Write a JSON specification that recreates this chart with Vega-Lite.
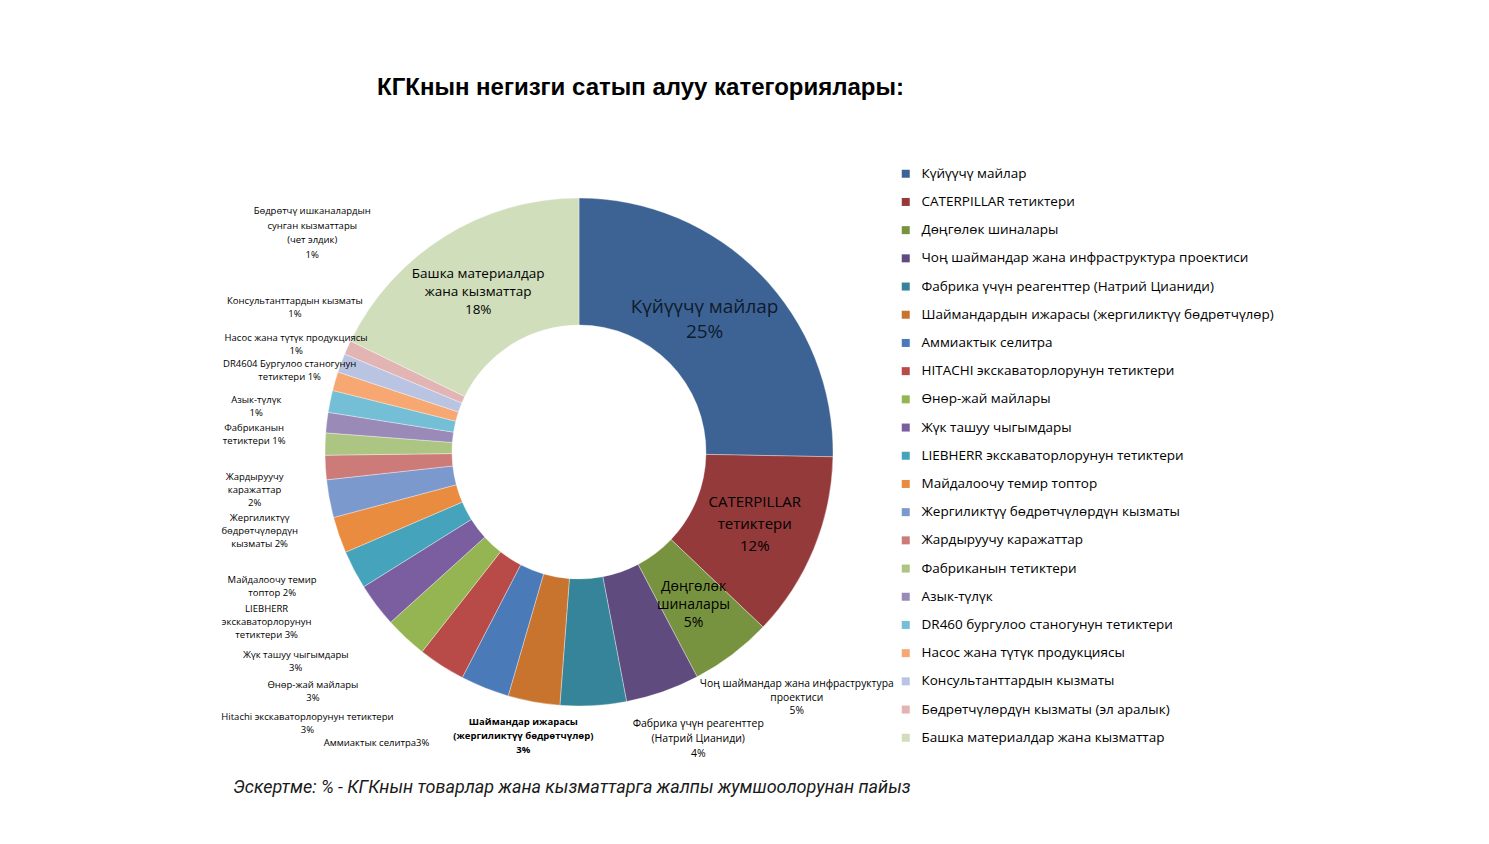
{
  "$schema": "https://vega.github.io/schema/vega-lite/v6.json",
  "background": "white",
  "padding": {"left": 180, "top": 76, "right": 10, "bottom": 10},
  "title": {"text": "КГКнын негизги сатып алуу категориялары:", "font": "Liberation Sans", "fontSize": 24, "fontWeight": "bold", "color": "#000000", "anchor": "start", "frame": "group", "dx": 197, "offset": 35},
  "config": {"view": {"stroke": null}, "text": {"lineBreak": "\n", "font": "Open Sans", "clip": true}},
  "vconcat": [
    {
      "width": 798,
      "height": 634,
      "title": {"text": "Эскертме: % - КГКнын товарлар жана кызматтарга жалпы жумшоолорунан пайыз", "orient": "bottom", "anchor": "start", "frame": "group", "dx": 53, "offset": 10, "font": "Roboto", "fontSize": 18, "fontStyle": "italic", "fontWeight": "normal", "color": "#1a1a1a"},
      "data": {"values": [
        {"idx": 1, "name": "Күйүүчү майлар", "label": "Күйүүчү майлар\n25%", "value": 25.3},
        {"idx": 2, "name": "CATERPILLAR тетиктери", "label": "CATERPILLAR\nтетиктери\n12%", "value": 11.8},
        {"idx": 3, "name": "Дөңгөлөк шиналары", "label": "Дөңгөлөк\nшиналары\n5%", "value": 5.2},
        {"idx": 4, "name": "Чоң шаймандар жана инфраструктура проектиси", "label": "Чоң шаймандар жана инфраструктура\nпроектиси\n5%", "value": 4.7},
        {"idx": 5, "name": "Фабрика үчүн реагенттер (Натрий Цианиди)", "label": "Фабрика үчүн реагенттер\n(Натрий Цианиди)\n4%", "value": 4.2},
        {"idx": 6, "name": "Шаймандардын ижарасы (жергиликтүү бөдрөтчүлөр)", "label": "Шаймандар ижарасы\n(жергиликтүү бөдрөтчүлөр)\n3%", "value": 3.3},
        {"idx": 7, "name": "Аммиактык селитра", "label": "Аммиактык селитра3%", "value": 3.1},
        {"idx": 8, "name": "HITACHI экскаваторлорунун тетиктери", "label": "Hitachi экскаваторлорунун тетиктери\n3%", "value": 3.0},
        {"idx": 9, "name": "Өнөр-жай майлары", "label": "Өнөр-жай майлары\n3%", "value": 2.7},
        {"idx": 10, "name": "Жүк ташуу чыгымдары", "label": "Жүк ташуу чыгымдары\n3%", "value": 2.8},
        {"idx": 11, "name": "LIEBHERR экскаваторлорунун тетиктери", "label": "LIEBHERR\nэкскаваторлорунун\nтетиктери 3%", "value": 2.45},
        {"idx": 12, "name": "Майдалоочу темир топтор", "label": "Майдалоочу темир\nтоптор 2%", "value": 2.3},
        {"idx": 13, "name": "Жергиликтүү бөдрөтчүлөрдүн кызматы", "label": "Жергиликтүү\nбөдрөтчүлөрдүн\nкызматы 2%", "value": 2.4},
        {"idx": 14, "name": "Жардыруучу каражаттар", "label": "Жардыруучу\nкаражаттар\n2%", "value": 1.55},
        {"idx": 15, "name": "Фабриканын тетиктери", "label": "Фабриканын\nтетиктери 1%", "value": 1.4},
        {"idx": 16, "name": "Азык-түлүк", "label": "Азык-түлүк\n1%", "value": 1.3},
        {"idx": 17, "name": "DR460 бургулоо станогунун тетиктери", "label": "DR4604 Бургулоо станогунун\nтетиктери  1%", "value": 1.4},
        {"idx": 18, "name": "Насос жана түтүк продукциясы", "label": "Насос жана түтүк продукциясы\n1%", "value": 1.2},
        {"idx": 19, "name": "Консультанттардын кызматы", "label": "Консультанттардын кызматы\n1%", "value": 1.2},
        {"idx": 20, "name": "Бөдрөтчүлөрдүн кызматы (эл аралык)", "label": "Бөдрөтчү ишканалардын\nсунган кызматтары\n(чет элдик)\n1%", "value": 0.9},
        {"idx": 21, "name": "Башка материалдар жана кызматтар", "label": "Башка материалдар\nжана кызматтар\n18%", "value": 17.8}
      ]},
      "encoding": {
        "theta": {"field": "value", "type": "quantitative", "stack": true},
        "order": {"field": "idx", "type": "quantitative"}
      },
      "layer": [
        {
          "mark": {"type": "arc", "innerRadius": 127, "outerRadius": 254, "stroke": "#ffffff", "strokeWidth": 0.5, "strokeOpacity": 0.7},
          "encoding": {
            "color": {
              "field": "name", "type": "nominal",
              "scale": {
                "domain": ["Күйүүчү майлар", "CATERPILLAR тетиктери", "Дөңгөлөк шиналары", "Чоң шаймандар жана инфраструктура проектиси", "Фабрика үчүн реагенттер (Натрий Цианиди)", "Шаймандардын ижарасы (жергиликтүү бөдрөтчүлөр)", "Аммиактык селитра", "HITACHI экскаваторлорунун тетиктери", "Өнөр-жай майлары", "Жүк ташуу чыгымдары", "LIEBHERR экскаваторлорунун тетиктери", "Майдалоочу темир топтор", "Жергиликтүү бөдрөтчүлөрдүн кызматы", "Жардыруучу каражаттар", "Фабриканын тетиктери", "Азык-түлүк", "DR460 бургулоо станогунун тетиктери", "Насос жана түтүк продукциясы", "Консультанттардын кызматы", "Бөдрөтчүлөрдүн кызматы (эл аралык)", "Башка материалдар жана кызматтар"],
                "range": ["#3d6394", "#953a3a", "#78933f", "#5f4b7e", "#35849a", "#c8742f", "#4a7ab8", "#b84a47", "#94b551", "#7b5ea0", "#45a3bc", "#e98c3f", "#7c99cd", "#cc7b79", "#adc583", "#9a8ab8", "#74bfd5", "#f6a772", "#b8c4e2", "#e2b5b4", "#d0debb"]
              },
              "legend": {"orient": "none", "legendX": 719, "legendY": 32, "title": null, "symbolType": "square", "symbolSize": 64, "symbolStrokeWidth": 0, "labelFont": "Open Sans", "labelFontSize": 13.5, "labelColor": "#000000", "rowPadding": 13.2, "labelOffset": 9, "labelLimit": 0}
            }
          }
        },
        {
          "mark": {"type": "text", "clip": true, "radius": 190, "fontSize": 19, "lineHeight": 25, "align": "center", "baseline": "middle", "dx": -10, "dy": -12, "fill": "#0f1b2d"},
          "encoding": {"detail": {"field": "name"}, "text": {"condition": {"test": "datum.idx === 1", "field": "label", "type": "nominal"}, "value": ""}}
        },
        {
          "mark": {"type": "text", "clip": true, "radius": 190, "fontSize": 15, "lineHeight": 22, "align": "center", "baseline": "middle", "dy": -22, "fill": "#000000"},
          "encoding": {"detail": {"field": "name"}, "text": {"condition": {"test": "datum.idx === 2", "field": "label", "type": "nominal"}, "value": ""}}
        },
        {
          "mark": {"type": "text", "clip": true, "radius": 190, "fontSize": 14, "lineHeight": 18, "align": "center", "baseline": "middle", "dy": -17, "fill": "#000000"},
          "encoding": {"detail": {"field": "name"}, "text": {"condition": {"test": "datum.idx === 3", "field": "label", "type": "nominal"}, "value": ""}}
        },
        {
          "mark": {"type": "text", "clip": true, "radius": 190, "fontSize": 13.5, "lineHeight": 18, "align": "center", "baseline": "middle", "dy": -17, "fill": "#000000"},
          "encoding": {"detail": {"field": "name"}, "text": {"condition": {"test": "datum.idx === 21", "field": "label", "type": "nominal"}, "value": ""}}
        },
        {
          "mark": {"type": "text", "clip": true, "radius": 260, "fontSize": 10.3, "lineHeight": 13.5, "align": "center", "baseline": "middle", "dx": 132, "dy": -13, "fill": "#000000"},
          "encoding": {"detail": {"field": "name"}, "text": {"condition": {"test": "datum.idx === 4", "field": "label", "type": "nominal"}, "value": ""}}
        },
        {
          "mark": {"type": "text", "clip": true, "radius": 287, "fontSize": 10.5, "lineHeight": 15, "align": "center", "baseline": "middle", "dx": 103, "dy": -15, "fill": "#000000"},
          "encoding": {"detail": {"field": "name"}, "text": {"condition": {"test": "datum.idx === 5", "field": "label", "type": "nominal"}, "value": ""}}
        },
        {
          "mark": {"type": "text", "clip": true, "radius": 290, "fontSize": 9.5, "lineHeight": 14, "fontWeight": "bold", "align": "center", "baseline": "middle", "dx": -4, "dy": -15, "fill": "#000000"},
          "encoding": {"detail": {"field": "name"}, "text": {"condition": {"test": "datum.idx === 6", "field": "label", "type": "nominal"}, "value": ""}}
        },
        {
          "mark": {"type": "text", "clip": true, "radius": 330, "fontSize": 9.5, "lineHeight": 13, "align": "center", "baseline": "middle", "dx": -80, "dy": -15, "fill": "#000000"},
          "encoding": {"detail": {"field": "name"}, "text": {"condition": {"test": "datum.idx === 7", "field": "label", "type": "nominal"}, "value": ""}}
        },
        {
          "mark": {"type": "text", "clip": true, "radius": 330, "fontSize": 9.5, "lineHeight": 13, "align": "center", "baseline": "middle", "dx": -93, "dy": -13, "fill": "#000000"},
          "encoding": {"detail": {"field": "name"}, "text": {"condition": {"test": "datum.idx === 8", "field": "label", "type": "nominal"}, "value": ""}}
        },
        {
          "mark": {"type": "text", "clip": true, "radius": 330, "fontSize": 9.5, "lineHeight": 13, "align": "center", "baseline": "middle", "dx": -41, "dy": -8, "fill": "#000000"},
          "encoding": {"detail": {"field": "name"}, "text": {"condition": {"test": "datum.idx === 9", "field": "label", "type": "nominal"}, "value": ""}}
        },
        {
          "mark": {"type": "text", "clip": true, "radius": 330, "fontSize": 9.5, "lineHeight": 13, "align": "center", "baseline": "middle", "dx": -20, "dy": 4, "fill": "#000000"},
          "encoding": {"detail": {"field": "name"}, "text": {"condition": {"test": "indexof([10, 11], datum.idx) >= 0", "field": "label", "type": "nominal"}, "value": ""}}
        },
        {
          "mark": {"type": "text", "clip": true, "radius": 330, "fontSize": 9.5, "lineHeight": 13, "align": "center", "baseline": "middle", "dx": 5, "dy": 20, "fill": "#000000"},
          "encoding": {"detail": {"field": "name"}, "text": {"condition": {"test": "datum.idx === 12", "field": "label", "type": "nominal"}, "value": ""}}
        },
        {
          "mark": {"type": "text", "clip": true, "radius": 330, "fontSize": 9.5, "lineHeight": 13, "align": "center", "baseline": "middle", "dx": 5, "dy": 5, "fill": "#000000"},
          "encoding": {"detail": {"field": "name"}, "text": {"condition": {"test": "indexof([13, 14], datum.idx) >= 0", "field": "label", "type": "nominal"}, "value": ""}}
        },
        {
          "mark": {"type": "text", "clip": true, "radius": 330, "fontSize": 9.5, "lineHeight": 13, "align": "center", "baseline": "middle", "dx": 5, "dy": -14, "fill": "#000000"},
          "encoding": {"detail": {"field": "name"}, "text": {"condition": {"test": "indexof([15, 16], datum.idx) >= 0", "field": "label", "type": "nominal"}, "value": ""}}
        },
        {
          "mark": {"type": "text", "clip": true, "radius": 330, "fontSize": 9.5, "lineHeight": 13, "align": "center", "baseline": "middle", "dx": 34, "dy": -22, "fill": "#000000"},
          "encoding": {"detail": {"field": "name"}, "text": {"condition": {"test": "indexof([17, 18], datum.idx) >= 0", "field": "label", "type": "nominal"}, "value": ""}}
        },
        {
          "mark": {"type": "text", "clip": true, "radius": 330, "fontSize": 9.5, "lineHeight": 13, "align": "center", "baseline": "middle", "dx": 25, "dy": -35, "fill": "#000000"},
          "encoding": {"detail": {"field": "name"}, "text": {"condition": {"test": "datum.idx === 19", "field": "label", "type": "nominal"}, "value": ""}}
        },
        {
          "mark": {"type": "text", "clip": true, "radius": 330, "fontSize": 9.5, "lineHeight": 14.5, "align": "center", "baseline": "middle", "dx": 34, "dy": -105, "fill": "#000000"},
          "encoding": {"detail": {"field": "name"}, "text": {"condition": {"test": "datum.idx === 20", "field": "label", "type": "nominal"}, "value": ""}}
        }
      ]
    }
  ]
}
